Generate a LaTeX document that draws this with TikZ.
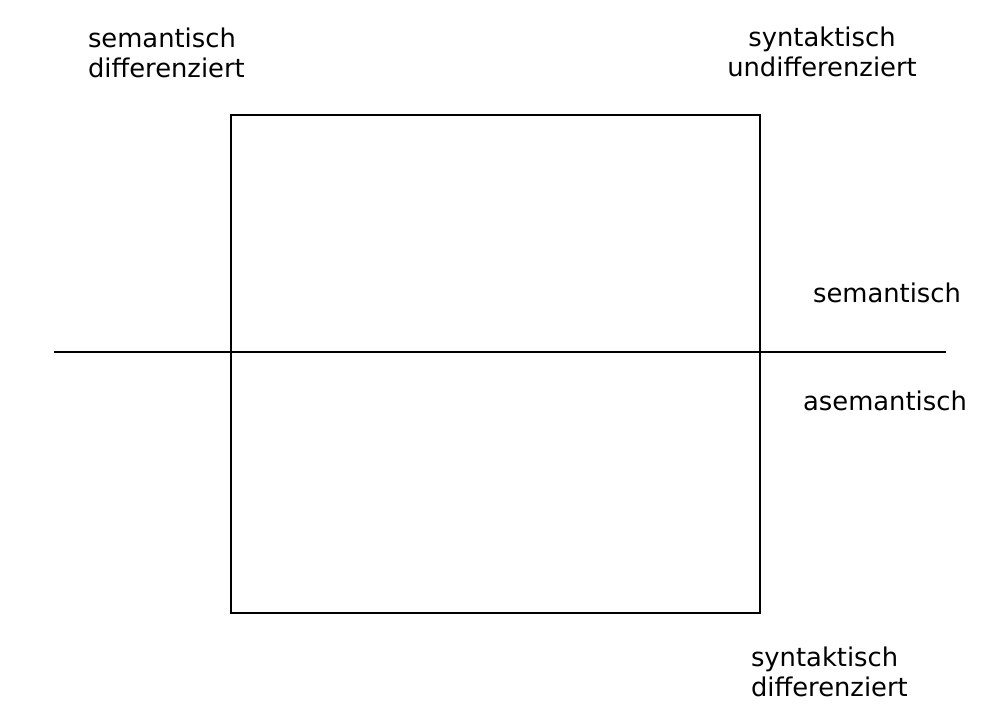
\documentclass[tikz,border=0pt]{standalone}
\usepackage{fontspec}
\setmainfont{DejaVu Sans}
\usepackage{tikz}

\begin{document}
\begin{tikzpicture}[x=0.5pt,y=-0.5pt,line width=1pt,
  lbl/.style={inner sep=0pt,font=\fontsize{12.9}{15}\selectfont}]
\useasboundingbox (0,0) rectangle (1008,713);

% Draw field and axis
\draw (231,115) rectangle (760,613);
\coordinate (axisL) at (54,352);
\coordinate (axisR) at (946,352);
\draw (axisL) -- (axisR);

% Add corner labels (base = last line)
\node[lbl,anchor=base west,align=left] (semdiff) at (87,77) {semantisch\\differenziert};
\node[lbl,anchor=base,align=center] (synundiff) at (822,76) {syntaktisch\\undifferenziert};
\node[lbl,anchor=base west,align=left] (syndiff) at (750,696) {syntaktisch\\differenziert};

% Add axis labels
\node[lbl,anchor=base] (sem) at (887,302) {semantisch};
\node[lbl,anchor=base] (asem) at (885,410) {asemantisch};
\end{tikzpicture}
\end{document}
